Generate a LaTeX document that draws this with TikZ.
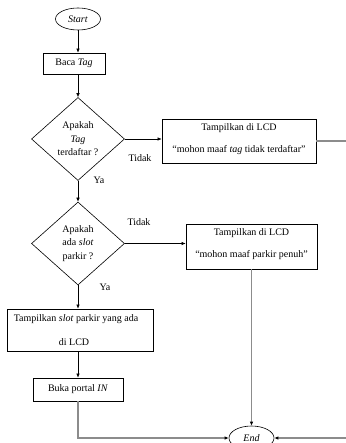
\documentclass[tikz,border=0pt]{standalone}
\usepackage{fontspec}
\setmainfont{Liberation Serif}
\usetikzlibrary{shapes.geometric,arrows.meta}
\begin{document}
\begin{tikzpicture}[x=1pt,y=-1pt,
  every node/.style={font=\fontsize{10}{13.5}\selectfont, inner sep=0pt},
  term/.style={draw, ellipse, line width=0.6pt},
  procbox/.style={draw, rectangle, line width=0.7pt, align=center},
  decis/.style={draw, diamond, line width=0.6pt, align=center},
  arr/.style={line width=0.6pt, -{Latex[length=4pt,width=3.5pt]}},
  garr/.style={line width=1.1pt, draw=black!45, -{Latex[length=4pt,width=3.5pt,color=black]}},
  lbl/.style={font=\fontsize{10}{12}\selectfont}]
\useasboundingbox (0,0) rectangle (345,443);
\fill[white] (0,0) rectangle (345,443);

\node[term, minimum width=45pt, minimum height=22pt] (start) at (78,19) {\textit{Start}};
\node[procbox, minimum width=62pt, minimum height=21pt] (baca) at (74,63.5) {Baca \textit{Tag}};
\node[decis, minimum width=93pt, minimum height=83pt, aspect=1.12] (d1) at (78,139) {};
\node[align=center, font=\fontsize{10}{13.5}\selectfont] (d1t) at (78,139) {Apakah\\\textit{Tag}\\terdaftar ?};
\node[procbox, minimum width=154pt, minimum height=44pt] (b1) at (239,141) {};
\node (b1a) at (239,128) {Tampilkan di LCD};
\node (b1b) at (239,150) {``mohon maaf \textit{tag} tidak terdaftar''};

\node[decis, minimum width=93pt, minimum height=83pt, aspect=1.12] (d2) at (78,243.5) {};
\node[align=center, font=\fontsize{10}{13.5}\selectfont] (d2t) at (78,243.5) {Apakah\\ada \textit{slot}\\parkir ?};
\node[procbox, minimum width=131pt, minimum height=45pt] (b2) at (251.5,246.5) {};
\node (b2a) at (251.5,233) {Tampilkan di LCD};
\node (b2b) at (251.5,255) {``mohon maaf parkir penuh''};

\node[procbox, minimum width=146pt, minimum height=42pt] (b3) at (80,330) {};
\node (b3a) at (76,319) {Tampilkan \textit{slot} parkir yang ada};
\node (b3b) at (74,342) {di LCD};
\node[procbox, minimum width=90pt, minimum height=23pt] (b4) at (78,389.5) {Buka portal \textit{IN}};

\node[term, minimum width=45pt, minimum height=24pt] (end) at (251.5,438) {\textit{End}};

\node[lbl] (t1) at (140,158) {Tidak};
\node[lbl] (y1) at (99,180.5) {Ya};
\node[lbl] (t2) at (139,222) {Tidak};
\node[lbl] (y2) at (105,287) {Ya};

\coordinate (r1) at (352,141);
\coordinate (r2) at (352,438);
\coordinate (l1) at (78,438);

\draw[arr] (start.south) -- (baca.north -| start.south);
\draw[arr] (baca.south -| d1.north) -- (d1.north);
\draw[arr] (d1.east) -- (d1.east -| b1.west);
\draw[arr] (d1.south) -- (d2.north);
\draw[arr] (d2.east) -- (d2.east -| b2.west);
\draw[arr] (d2.south) -- (d2.south |- b3.north);
\draw[arr] (b3.south -| b4.north) -- (b4.north);
\draw[garr] (b2.south) -- (end.north);
\draw[garr] (b1.east) -- (r1) -- (r2) -- (end.east);
\draw[garr] (b4.south) -- (l1) -- (end.west);
\end{tikzpicture}
\end{document}
